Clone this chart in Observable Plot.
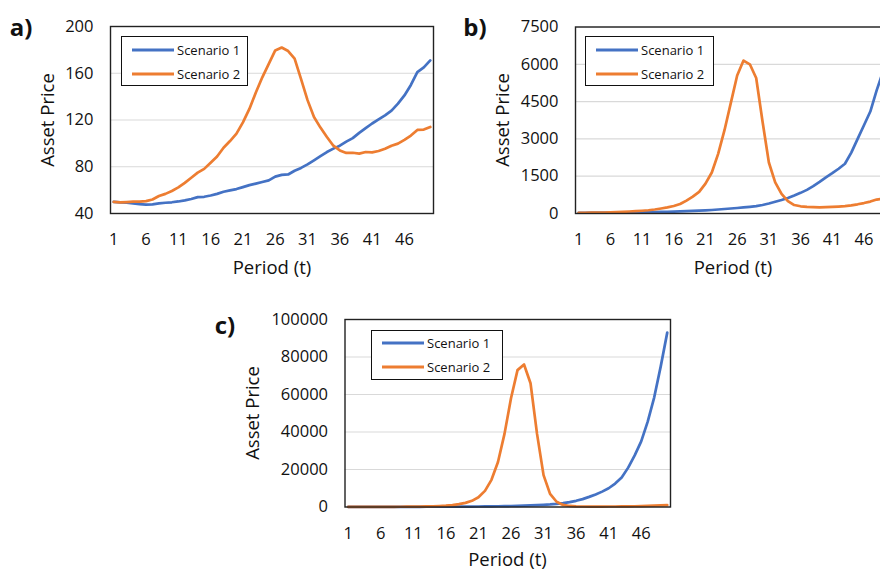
<!DOCTYPE html>
<html><head><meta charset="utf-8">
<script src="https://cdn.jsdelivr.net/npm/d3@7"></script>
<script src="https://cdn.jsdelivr.net/npm/@observablehq/plot@0.6"></script>
<style>
html,body{margin:0;padding:0;background:#fff;overflow:hidden;}
#root{position:relative;width:880px;height:572px;overflow:hidden;font-family:"Open Sans",sans-serif;color:#111;}
.plot{position:absolute;}
.title{position:absolute;font-size:18.5px;white-space:nowrap;transform:translate(-50%,-50%);line-height:1.1;}
.ytitle{transform:translate(-50%,-50%) rotate(-90deg);}
.plabel{position:absolute;font-weight:700;font-size:24px;transform:translate(-50%,-50%);line-height:1;}
.legend{position:absolute;border:1.4px solid #111;background:#fff;box-sizing:border-box;}
.legend .sw{position:absolute;height:3px;transform:translateY(-50%);}
.legend .lt{position:absolute;font-size:13px;transform:translateY(-50%);white-space:nowrap;line-height:1;}
</style></head><body><div id="root"></div>
<script>
// ---- data ----
const periods = [1,2,3,4,5,6,7,8,9,10,11,12,13,14,15,16,17,18,19,20,21,22,23,24,25,26,27,28,29,30,31,32,33,34,35,36,37,38,39,40,41,42,43,44,45,46,47,48,49,50];
const xTicks = [1,6,11,16,21,26,31,36,41,46];
const seriesNames = ["Scenario 1", "Scenario 2"];
const seriesColors = ["#4472C4", "#ED7D31"];

const aScenario1 = [50,49.5,49.3,48.7,48.1,47.6,47.8,48.6,49.2,49.6,50.3,51.2,52.4,54,54.3,55.4,56.8,58.6,59.8,60.9,62.6,64.3,65.6,67,68.3,71.6,73,73.4,76.6,79,82,85.5,89,92.6,95.5,98,101.5,104.5,109,113,117,120.5,124,128,134,141,150,161,165,171];
const aScenario2 = [50,49.6,49.8,50.1,50.2,50.6,52,55,56.8,59.3,62.3,66.2,70.6,75,78.2,83.5,88.8,96.3,102,108.3,118,129.5,143.5,156.5,168,179.5,182,179,172.5,155,137,122.5,113.5,105.5,98,94,91.8,92,91.2,92.6,92.3,93.5,95.4,98,99.8,103,106.7,111.5,111.8,114];
const aYTicks = [40,80,120,160,200];

const bScenario1 = [30,31,32,33,34,35,38,40,43,46,50,55,60,65,70,78,88,96,105,115,125,140,160,180,200,220,245,270,295,340,400,470,540,620,720,830,950,1100,1270,1450,1620,1800,2000,2450,3000,3550,4100,4950,5700,6600];
const bScenario2 = [30,30,32,35,38,45,55,65,80,95,110,130,160,200,245,300,380,520,680,870,1200,1650,2400,3350,4450,5550,6150,6000,5450,3700,2050,1250,790,500,340,290,265,255,250,255,265,280,300,330,370,420,480,560,600,640];
const bYTicks = [0,1500,3000,4500,6000,7500];

const cScenario1 = [50,52,55,58,62,66,72,78,85,92,100,110,120,132,145,160,178,198,220,245,275,310,350,400,460,530,610,700,820,960,1130,1350,1650,2050,2600,3300,4200,5400,6700,8200,10000,12500,15700,21000,27500,35000,45500,58500,75000,93000];
const cScenario2 = [50,50,55,60,70,80,95,110,130,160,200,250,320,400,520,700,1000,1500,2200,3300,5200,8600,14500,24000,39000,58000,73000,76000,66000,39000,17000,7000,2800,1100,550,350,280,250,240,250,260,280,310,350,400,470,560,700,850,1000];
const cYTicks = [0,20000,40000,60000,80000,100000];

const panelLabels = ["a)", "b)", "c)"];
const xTitle = "Period (t)";
const yTitle = "Asset Price";

// ---- layout ----
const panels = [
  {series:[aScenario1,aScenario2], yTicks:aYTicks, label:panelLabels[0],
   left:0, top:0, w:440, h:290, ml:110, mr:7, mt:26, mb:77,
   plabel:[21,27], ytitle:[47,120], xtitle:[272,267], legend:{l:121,t:36,w:127,h:50}},
  {series:[bScenario1,bScenario2], yTicks:bYTicks, label:panelLabels[1],
   left:440, top:0, w:460, h:290, ml:135, mr:8, mt:26.5, mb:77,
   plabel:[475,27], ytitle:[502,120], xtitle:[733,267], legend:{l:585,t:36,w:129,h:50}},
  {series:[cScenario1,cScenario2], yTicks:cYTicks, label:panelLabels[2],
   left:200, top:290, w:480, h:282, ml:144.5, mr:10, mt:29, mb:65.5,
   plabel:[225,325], ytitle:[252,413], xtitle:[507.5,559], legend:{l:371,t:329.5,w:131.5,h:50}}
];

const root = document.getElementById("root");

function addText(cls, text, x, y) {
  const d = document.createElement("div");
  d.className = cls;
  d.textContent = text;
  d.style.left = x + "px";
  d.style.top = y + "px";
  root.appendChild(d);
}

panels.forEach(p => {
  const lineMarks = p.series.map((vals, i) =>
    Plot.line(periods.map((t, j) => ({t, v: vals[j]})), {x: "t", y: "v", stroke: seriesColors[i], strokeWidth: 2.7, strokeLinejoin: "round"})
  );
  const chart = Plot.plot({
    width: p.w, height: p.h,
    marginLeft: p.ml, marginRight: p.mr, marginTop: p.mt, marginBottom: p.mb,
    style: {fontFamily: '"Open Sans", sans-serif', fontSize: "16.5px", color: "#111", background: "transparent"},
    x: {type: "linear", domain: [0.5, 50.5]},
    y: {type: "linear", domain: [p.yTicks[0], p.yTicks[p.yTicks.length - 1]]},
    marks: [
      Plot.gridY(p.yTicks, {stroke: "#d9d9d9", strokeOpacity: 1, strokeWidth: 1.2}),
      Plot.axisX(xTicks, {tickSize: 0, tickPadding: 20, label: null, tickFormat: d => String(d)}),
      Plot.axisY(p.yTicks, {tickSize: 0, tickPadding: 17, label: null, tickFormat: d => String(d)}),
      ...lineMarks,
      Plot.frame({stroke: "#222", strokeWidth: 1.4})
    ]
  });
  chart.classList.add("plot");
  chart.style.left = p.left + "px";
  chart.style.top = p.top + "px";
  root.appendChild(chart);

  addText("plabel", p.label, p.plabel[0], p.plabel[1]);
  addText("title ytitle", yTitle, p.ytitle[0], p.ytitle[1]);
  addText("title", xTitle, p.xtitle[0], p.xtitle[1]);

  const lg = document.createElement("div");
  lg.className = "legend";
  Object.assign(lg.style, {left: p.legend.l + "px", top: p.legend.t + "px", width: p.legend.w + "px", height: p.legend.h + "px"});
  seriesNames.forEach((name, i) => {
    const rowY = 12.5 + i * 24;
    const sw = document.createElement("div");
    sw.className = "sw";
    Object.assign(sw.style, {left: "10px", width: "42px", top: rowY + "px", background: seriesColors[i]});
    const lt = document.createElement("div");
    lt.className = "lt";
    lt.textContent = name;
    Object.assign(lt.style, {left: "55px", top: rowY + "px"});
    lg.appendChild(sw);
    lg.appendChild(lt);
  });
  root.appendChild(lg);
});
</script>
</body></html>
